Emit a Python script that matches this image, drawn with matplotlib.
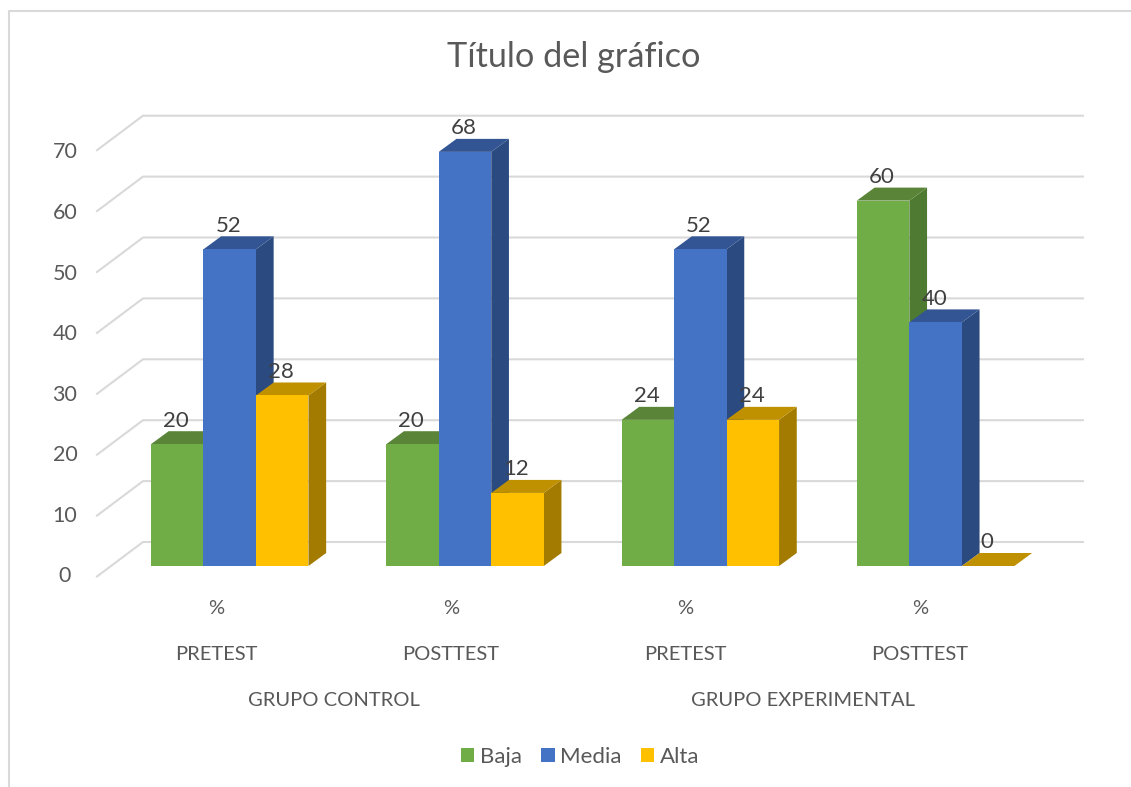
import matplotlib

matplotlib.use("Agg")
import matplotlib.pyplot as plt
from matplotlib.patches import Polygon

plt.rcParams["font.family"] = ["Lato", "DejaVu Sans"]

# Data
SERIES = ["Baja", "Media", "Alta"]
BAJA = [20, 20, 24, 60]
MEDIA = [52, 68, 52, 40]
ALTA = [28, 12, 24, 0]
UNITS = ["%", "%", "%", "%"]
TESTS = ["PRETEST", "POSTTEST", "PRETEST", "POSTTEST"]
GROUPS = ["GRUPO CONTROL", "GRUPO EXPERIMENTAL"]
YTICKS = [0, 10, 20, 30, 40, 50, 60, 70]

# Canvas, in pixels
W, H = 1131, 787
X0, X_STEP = 229.7, 235.3  # first category centre, category spacing
Y0, Y_UNIT = 566.0, 6.09  # baseline of the bar fronts, pixels per unit

# Style parameters
FRONT = ["#70AD47", "#4472C4", "#FFC000"]
TOP = ["#5A8539", "#335593", "#BF9000"]
SIDE = ["#4E7B31", "#2A4A80", "#A37B00"]
GRID = "#D9D9D9"
TEXT = "#595959"
LABEL = "#404040"


def main():
    fig = plt.figure(figsize=(W / 100, H / 100), dpi=100)
    ax = fig.add_axes([0, 0, 1, 1])
    ax.set_xlim(-X0 / X_STEP, (W - X0) / X_STEP)
    ax.set_ylim((Y0 - H) / Y_UNIT, Y0 / Y_UNIT)
    ax.axis("off")

    # Sizes in data units
    width = 52.5 / X_STEP
    depth_x = 17.7 / X_STEP
    depth_y = 13 / Y_UNIT

    # Chart frame
    def px_text(x, y, s, **kw):
        fig.text(x / W, 1 - y / H, s, ha="center", va="center", **kw)

    fig.add_artist(
        plt.Line2D(
            [8.5 / W, 8.5 / W, 1],
            [0, 1 - 10.5 / H, 1 - 10.5 / H],
            color=GRID,
            lw=1.5,
        )
    )

    # Gridlines: diagonal on the floor, then along the back wall
    wall_left = (143 - X0) / X_STEP
    wall_right = (1083 - X0) / X_STEP
    floor_left = (97 - X0) / X_STEP
    wall_y = 24 / Y_UNIT
    floor_y = -10.5 / Y_UNIT
    for tick in YTICKS:
        ax.plot(
            [floor_left, wall_left, wall_right],
            [tick + floor_y, tick + wall_y, tick + wall_y],
            color=GRID,
            lw=1.5,
            zorder=1,
        )
        px_text(65, 576.5 - tick * 6.06, str(tick), fontsize=15.5, color=TEXT)

    # Bars
    handles = []
    for s, values in enumerate([BAJA, MEDIA, ALTA]):
        xs = [i + (s - 1.5) * width for i in range(len(values))]
        zorder = 2 + s
        for x, value in zip(xs, values):
            ax.add_patch(
                Polygon(
                    [
                        (x + width, 0),
                        (x + width + depth_x, depth_y),
                        (x + width + depth_x, value + depth_y),
                        (x + width, value),
                    ],
                    color=SIDE[s],
                    lw=0,
                    zorder=zorder,
                )
            )
            ax.add_patch(
                Polygon(
                    [
                        (x, value),
                        (x + depth_x, value + depth_y),
                        (x + width + depth_x, value + depth_y),
                        (x + width, value),
                    ],
                    color=TOP[s],
                    lw=0,
                    zorder=zorder,
                )
            )
        bars = ax.bar(
            xs,
            values,
            width,
            align="edge",
            color=FRONT[s],
            lw=0,
            zorder=zorder,
            label=SERIES[s],
        )
        handles.append(bars)
        for x, value in zip(xs, values):
            ax.text(
                x + width / 2 - 0.005,
                value + 23.5 / Y_UNIT,
                str(value),
                ha="center",
                va="center",
                fontsize=16,
                color=LABEL,
                zorder=10,
            )

    # Category labels
    for i, (unit, test) in enumerate(zip(UNITS, TESTS)):
        x_px = 216 + 234.7 * i
        px_text(x_px, 608, unit, fontsize=14.5, color=TEXT)
        px_text(x_px, 654, test, fontsize=14.5, color=TEXT)
    px_text(333.5, 700, GROUPS[0], fontsize=14.5, color=TEXT)
    px_text(803, 700, GROUPS[1], fontsize=14.5, color=TEXT)

    # Title
    px_text(574, 57, "Título del gráfico", fontsize=24.7, color=TEXT)

    # Legend
    ax.legend(
        handles=handles,
        loc="center",
        bbox_to_anchor=(580 / W, 1 - 757 / H),
        bbox_transform=fig.transFigure,
        ncol=3,
        frameon=False,
        fontsize=16,
        labelcolor=TEXT,
        handlelength=0.62,
        handleheight=0.62,
        handletextpad=0.25,
        columnspacing=0.85,
    )

    plt.savefig("out.png", dpi=100)
    plt.close()


if __name__ == "__main__":
    main()
